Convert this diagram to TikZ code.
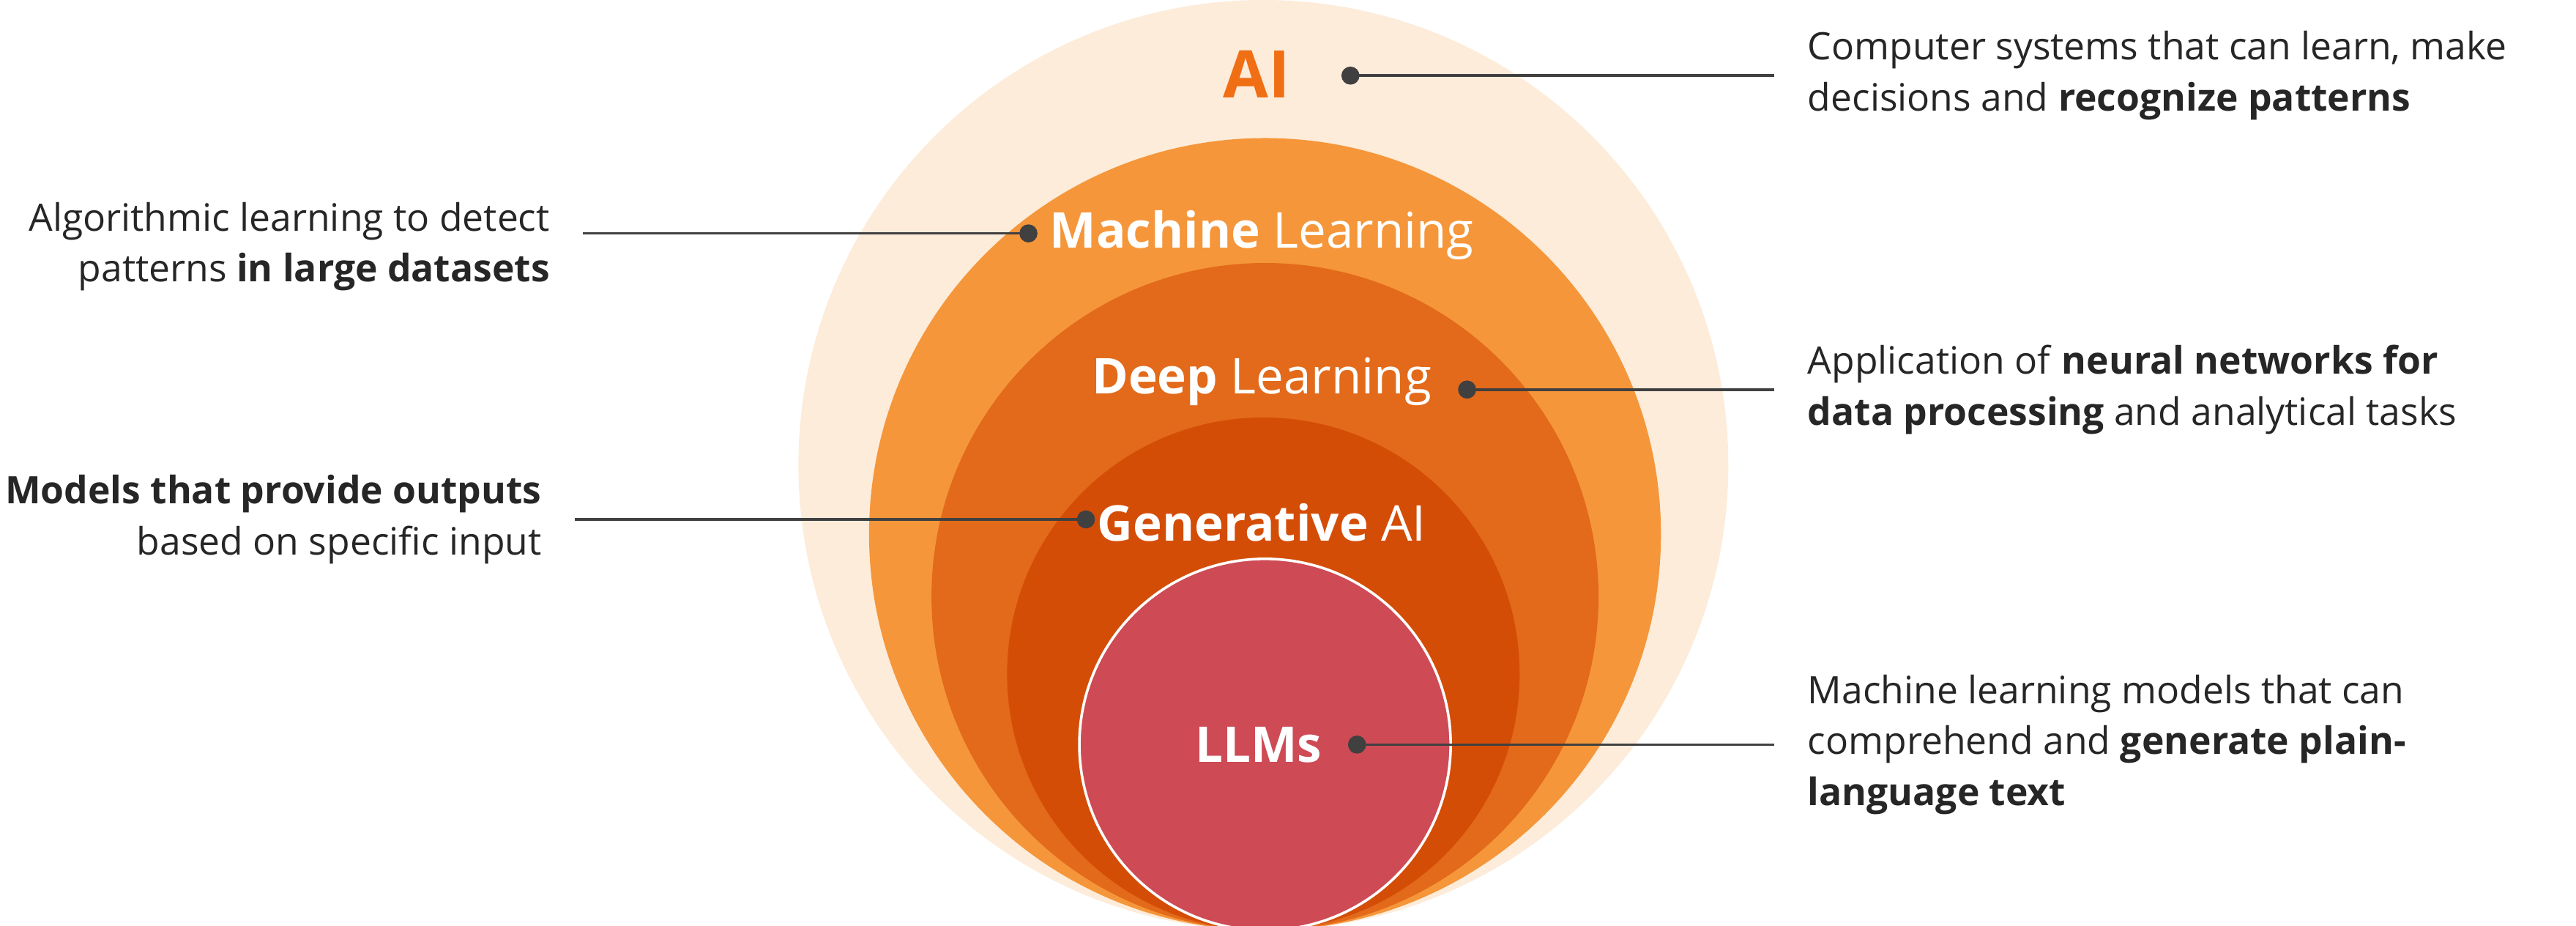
\documentclass[tikz,border=0pt]{standalone}
\usepackage{fontspec}
\setmainfont{Open Sans}
\usepackage{tikz}
\definecolor{AIColor1}{RGB}{253,236,218}
\definecolor{AIColor2}{RGB}{245,150,58}
\definecolor{AIColor3}{RGB}{226,106,26}
\definecolor{AIColor4}{RGB}{212,77,6}
\definecolor{AIColor5}{RGB}{206,74,85}
\definecolor{AIColorText}{RGB}{240,110,20}

\begin{document}
\begin{tikzpicture}[x=0.5pt,y=-0.5pt,
  circ/.style={fill=#1,draw=none},
  lbl/.style={text=white,font=\fontsize{15}{18}\selectfont,inner sep=0pt},
  txt/.style={font=\fontsize{11.5}{15.5}\selectfont,text=black!85,inner sep=10pt},
  dot/.style={circle,fill=black!75,inner sep=0pt,minimum size=5.5pt},
  con/.style={draw=black!75,line width=0.8pt}]
\useasboundingbox (0,0) rectangle (1568,563);
\fill[white] (0,0) rectangle (1568,563);
\foreach \cx/\r/\c in {769/283/AIColor1,770/241/AIColor2,770/203/AIColor3,769/156/AIColor4} {
   \fill[circ=\c] (\cx,566-\r) circle[radius=\r];
}
\filldraw[fill=AIColor5,draw=white,line width=0.8pt] (770,566-113) circle[radius=113];
% labels in the circles
\node[lbl,text=AIColorText,font=\fontsize{20}{24}\selectfont\bfseries] (nAI) at (765,45) {AI};
\node[lbl] (nML) at (768,143) {\textbf{Machine} Learning};
\node[lbl] (nDL) at (768,232) {\textbf{Deep} Learning};
\node[lbl] (nGA) at (768,318) {\textbf{Generative} AI};
\node[lbl] (nLL) at (766,453) {\textbf{LLMs}};
% dots
\node[dot] (dAI) at (822,46) {};
\node[dot] (dML) at (626,142) {};
\node[dot] (dDL) at (893,237) {};
\node[dot] (dGA) at (661,316) {};
\node[dot] (dLL) at (826,453) {};
% descriptions
\node[txt,anchor=west,align=left] (tAI) at (1080,46) {Computer systems that can learn, make\\decisions and \textbf{recognize patterns}};
\node[txt,anchor=east,align=right] (tML) at (355,150) {Algorithmic learning to detect\\patterns \textbf{in large datasets}};
\node[txt,anchor=west,align=left] (tDL) at (1080,237) {Application of \textbf{neural networks for}\\\textbf{data processing} and analytical tasks};
\node[txt,anchor=east,align=right] (tGA) at (350,316) {\textbf{Models that provide outputs}\\based on specific input};
\node[txt,anchor=west,align=left] (tLL) at (1080,453) {Machine learning models that can\\comprehend and \textbf{generate plain-}\\\textbf{language text}};
\foreach \a/\b in {dAI/tAI,dDL/tDL,dLL/tLL} {
   \draw[con] (\a.center) -- (\a.center -| \b.west);
}
\draw[con] (dML.center) -- (dML.center -| tML.east);
\draw[con] (dGA.center) -- (dGA.center -| tGA.east);
\end{tikzpicture}
\end{document}
